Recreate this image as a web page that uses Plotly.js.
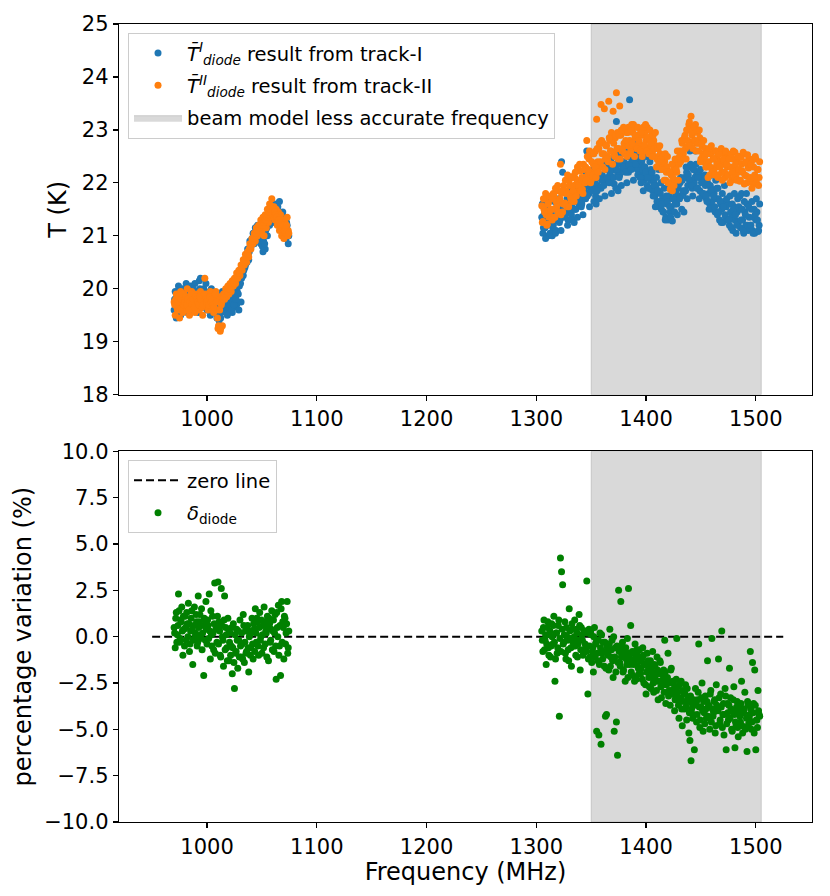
<!DOCTYPE html>
<html><head><meta charset="utf-8">
<script src="https://cdn.plot.ly/plotly-3.0.1.min.js"></script>
<style>html,body{margin:0;padding:0;background:#fff}#chart{width:830px;height:896px}</style>
</head><body><div id="chart"></div>
<script>
// Frequency channels (MHz): integer channels and half-MHz channels
const freqLow = [
970,971,972,973,974,975,976,977,978,979,
980,981,982,983,984,985,986,987,988,989,
990,991,992,993,994,995,996,997,998,999,
1000,1001,1002,1003,1004,1005,1006,1007,1008,1009,
1010,1011,1012,1013,1014,1015,1016,1017,1018,1019,
1020,1021,1022,1023,1024,1025,1026,1027,1028,1029,
1030,1031,1032,1033,1034,1035,1036,1037,1038,1039,
1040,1041,1042,1043,1044,1045,1046,1047,1048,1049,
1050,1051,1052,1053,1054,1055,1056,1057,1058,1059,
1060,1061,1062,1063,1064,1065,1066,1067,1068,1069,
1070,1071,1072,1073,1074];
const freqLowMid = [
970.5,971.5,972.5,973.5,974.5,975.5,976.5,977.5,978.5,979.5,
980.5,981.5,982.5,983.5,984.5,985.5,986.5,987.5,988.5,989.5,
990.5,991.5,992.5,993.5,994.5,995.5,996.5,997.5,998.5,999.5,
1000.5,1001.5,1002.5,1003.5,1004.5,1005.5,1006.5,1007.5,1008.5,1009.5,
1010.5,1011.5,1012.5,1013.5,1014.5,1015.5,1016.5,1017.5,1018.5,1019.5,
1020.5,1021.5,1022.5,1023.5,1024.5,1025.5,1026.5,1027.5,1028.5,1029.5,
1030.5,1031.5,1032.5,1033.5,1034.5,1035.5,1036.5,1037.5,1038.5,1039.5,
1040.5,1041.5,1042.5,1043.5,1044.5,1045.5,1046.5,1047.5,1048.5,1049.5,
1050.5,1051.5,1052.5,1053.5,1054.5,1055.5,1056.5,1057.5,1058.5,1059.5,
1060.5,1061.5,1062.5,1063.5,1064.5,1065.5,1066.5,1067.5,1068.5,1069.5,
1070.5,1071.5,1072.5,1073.5,1074.5];
const freqHigh = [
1305,1306,1307,1308,1309,1310,1311,1312,1313,1314,
1315,1316,1317,1318,1319,1320,1321,1322,1323,1324,
1325,1326,1327,1328,1329,1330,1331,1332,1333,1334,
1335,1336,1337,1338,1339,1340,1341,1342,1343,1344,
1345,1346,1347,1348,1349,1350,1351,1352,1353,1354,
1355,1356,1357,1358,1359,1360,1361,1362,1363,1364,
1365,1366,1367,1368,1369,1370,1371,1372,1373,1374,
1375,1376,1377,1378,1379,1380,1381,1382,1383,1384,
1385,1386,1387,1388,1389,1390,1391,1392,1393,1394,
1395,1396,1397,1398,1399,1400,1401,1402,1403,1404,
1405,1406,1407,1408,1409,1410,1411,1412,1413,1414,
1415,1416,1417,1418,1419,1420,1421,1422,1423,1424,
1425,1426,1427,1428,1429,1430,1431,1432,1433,1434,
1435,1436,1437,1438,1439,1440,1441,1442,1443,1444,
1445,1446,1447,1448,1449,1450,1451,1452,1453,1454,
1455,1456,1457,1458,1459,1460,1461,1462,1463,1464,
1465,1466,1467,1468,1469,1470,1471,1472,1473,1474,
1475,1476,1477,1478,1479,1480,1481,1482,1483,1484,
1485,1486,1487,1488,1489,1490,1491,1492,1493,1494,
1495,1496,1497,1498,1499,1500,1501,1502,1503];
const freqHighMid = [
1305.5,1306.5,1307.5,1308.5,1309.5,1310.5,1311.5,1312.5,1313.5,1314.5,
1315.5,1316.5,1317.5,1318.5,1319.5,1320.5,1321.5,1322.5,1323.5,1324.5,
1325.5,1326.5,1327.5,1328.5,1329.5,1330.5,1331.5,1332.5,1333.5,1334.5,
1335.5,1336.5,1337.5,1338.5,1339.5,1340.5,1341.5,1342.5,1343.5,1344.5,
1345.5,1346.5,1347.5,1348.5,1349.5,1350.5,1351.5,1352.5,1353.5,1354.5,
1355.5,1356.5,1357.5,1358.5,1359.5,1360.5,1361.5,1362.5,1363.5,1364.5,
1365.5,1366.5,1367.5,1368.5,1369.5,1370.5,1371.5,1372.5,1373.5,1374.5,
1375.5,1376.5,1377.5,1378.5,1379.5,1380.5,1381.5,1382.5,1383.5,1384.5,
1385.5,1386.5,1387.5,1388.5,1389.5,1390.5,1391.5,1392.5,1393.5,1394.5,
1395.5,1396.5,1397.5,1398.5,1399.5,1400.5,1401.5,1402.5,1403.5,1404.5,
1405.5,1406.5,1407.5,1408.5,1409.5,1410.5,1411.5,1412.5,1413.5,1414.5,
1415.5,1416.5,1417.5,1418.5,1419.5,1420.5,1421.5,1422.5,1423.5,1424.5,
1425.5,1426.5,1427.5,1428.5,1429.5,1430.5,1431.5,1432.5,1433.5,1434.5,
1435.5,1436.5,1437.5,1438.5,1439.5,1440.5,1441.5,1442.5,1443.5,1444.5,
1445.5,1446.5,1447.5,1448.5,1449.5,1450.5,1451.5,1452.5,1453.5,1454.5,
1455.5,1456.5,1457.5,1458.5,1459.5,1460.5,1461.5,1462.5,1463.5,1464.5,
1465.5,1466.5,1467.5,1468.5,1469.5,1470.5,1471.5,1472.5,1473.5,1474.5,
1475.5,1476.5,1477.5,1478.5,1479.5,1480.5,1481.5,1482.5,1483.5,1484.5,
1485.5,1486.5,1487.5,1488.5,1489.5,1490.5,1491.5,1492.5,1493.5,1494.5,
1495.5,1496.5,1497.5,1498.5,1499.5,1500.5,1501.5,1502.5,1503.5];

// T_diode from track-I (K)
const tILow = [
19.6,19.95,19.45,19.8,20.05,19.7,19.5,19.9,20.0,19.65,
19.85,20.1,19.55,19.9,19.75,20.05,19.6,19.9,19.8,20.1,
19.7,19.95,19.55,20.15,20.2,19.85,19.65,20.0,19.75,20.1,
19.6,19.9,19.8,19.5,20.0,19.7,19.85,19.6,19.9,19.45,
19.75,19.4,19.85,19.55,19.95,19.7,19.6,19.9,19.75,19.55,
19.8,19.6,19.95,19.55,19.85,19.65,20.05,19.7,20.2,19.6,
20.3,19.75,20.4,20.25,20.55,20.45,20.6,20.75,20.55,20.9,
20.8,20.95,21.05,20.85,21.15,21.0,21.2,20.9,21.1,20.85,
21.25,20.7,21.05,20.75,21.3,21.0,21.4,21.2,21.55,21.3,
21.45,21.25,21.6,21.35,21.5,21.2,21.65,21.3,21.1,21.45,
21.0,21.35,20.95,21.2,20.85];
const tILowMid = [
19.8,19.7,19.9,19.85,19.65,19.75,19.95,19.8,19.7,19.85,
19.9,19.75,19.7,19.95,19.8,19.65,19.85,20.0,19.75,19.8,
19.85,19.8,19.9,20.0,19.75,19.7,19.9,19.85,19.95,19.8,
19.75,19.85,19.7,19.9,19.8,19.65,19.75,19.8,19.55,19.7,
19.5,19.65,19.45,19.7,19.6,19.8,19.65,19.7,19.5,19.75,
19.65,19.7,19.6,19.75,19.7,19.85,19.8,19.95,19.9,20.05,
20.1,20.2,20.3,20.35,20.4,20.55,20.5,20.65,20.7,20.8,
20.85,20.9,20.95,21.0,21.05,21.1,21.05,21.0,20.95,21.0,
20.8,20.9,20.85,21.1,21.15,21.2,21.3,21.35,21.4,21.5,
21.35,21.4,21.45,21.3,21.55,21.4,21.25,21.35,21.3,21.2,
21.15,21.1,21.25,21.05,21.0];
const tIHigh = [
21.35,21.05,21.4,21.15,21.5,21.2,21.0,21.45,21.25,21.38,
21.15,21.5,21.3,21.1,21.55,21.35,21.25,21.5,22.4,22.2,
21.35,21.6,21.45,21.7,21.3,21.55,21.75,21.4,21.62,21.5,
21.8,21.5,21.7,21.9,21.6,21.75,21.55,21.95,21.7,21.85,
21.7,22.6,21.95,21.8,22.05,21.85,22.15,21.9,22.0,21.75,
22.2,21.95,22.1,22.3,21.9,22.15,22.35,22.0,22.25,22.05,
22.3,22.05,22.2,22.4,22.1,22.25,21.98,22.35,23.16,22.2,
22.45,22.15,22.35,22.55,22.25,22.4,22.6,22.3,22.5,22.2,
23.57,22.7,22.4,22.55,22.3,22.6,22.45,22.25,22.5,22.35,
22.15,22.4,22.25,22.05,22.3,22.1,21.95,22.2,21.9,22.05,
22.1,21.85,22.0,21.75,21.95,21.65,21.85,21.55,21.8,21.5,
21.7,21.45,21.65,21.35,21.6,21.3,21.75,21.45,21.55,21.28,
21.7,21.45,21.8,21.6,21.9,21.7,22.0,21.75,22.05,21.8,
22.1,21.85,22.2,21.95,22.3,22.6,22.05,21.9,22.25,22.0,
22.6,22.15,21.9,22.2,21.85,22.1,21.8,22.05,21.75,21.95,
21.7,22.0,21.8,21.6,21.9,21.65,21.5,21.8,21.45,21.7,
21.4,21.7,21.3,21.6,21.5,21.25,21.65,21.4,21.55,21.3,
21.6,21.2,21.45,21.35,21.1,21.55,21.3,21.05,21.45,21.25,
21.5,21.15,21.8,21.3,21.05,21.45,21.2,21.6,21.1,21.35,
21.2,21.5,21.1,21.35,21.05,21.3,21.45,21.08,21.2];
const tIHighMid = [
21.6,21.15,21.35,20.95,21.5,21.25,21.65,21.05,21.4,21.0,
21.2,21.65,21.05,21.5,21.4,21.7,21.3,21.1,21.6,21.45,
21.85,21.4,21.6,21.2,21.75,21.5,21.9,21.3,21.65,21.25,
21.5,21.95,21.35,21.8,21.7,22.0,21.6,21.4,21.9,21.75,
22.2,21.75,21.95,21.55,22.1,21.85,22.25,21.65,22.0,21.6,
21.85,22.3,21.7,22.15,22.05,22.35,21.95,21.75,22.25,22.1,
22.45,22.0,22.2,21.8,22.35,22.1,22.5,21.9,22.25,21.85,
22.1,22.55,21.95,22.4,22.3,22.6,22.2,22.0,22.5,22.35,
22.7,22.25,22.45,22.05,22.6,22.35,22.75,22.15,22.5,22.1,
22.0,22.45,21.85,22.3,22.2,22.5,22.1,21.9,22.4,22.25,
22.2,21.75,21.95,21.55,22.1,21.85,22.25,21.65,22.0,21.6,
21.45,21.9,21.3,21.75,21.65,21.95,21.55,21.35,21.85,21.7,
22.05,21.6,21.8,21.4,21.95,21.7,22.1,21.5,21.85,21.45,
21.85,22.3,21.7,22.15,22.05,22.35,21.95,21.75,22.25,22.1,
22.35,21.9,22.1,21.7,22.25,22.0,22.4,21.8,22.15,21.75,
21.65,22.1,21.5,21.95,21.85,22.15,21.75,21.55,22.05,21.9,
21.9,21.45,21.65,21.25,21.8,21.55,21.95,21.35,21.7,21.3,
21.3,21.75,21.15,21.6,21.5,21.8,21.4,21.2,21.7,21.55,
21.75,21.3,21.5,21.1,21.65,21.4,21.8,21.2,21.55,21.15,
21.2,21.65,21.05,21.5,21.4,21.7,21.3,21.1,21.6];

// T_diode from track-II (K)
const tIILow = [
19.75,19.5,19.9,19.6,19.85,19.45,19.95,19.7,19.55,19.9,
19.75,19.6,20.0,19.7,19.5,19.85,19.95,19.65,19.8,19.55,
19.9,19.7,19.85,19.6,19.95,19.75,19.5,19.85,20.2,19.7,
19.9,19.6,19.8,19.95,19.65,19.85,19.55,19.8,19.95,19.6,
19.25,19.85,19.2,19.7,19.3,19.9,19.8,20.0,19.85,20.05,
19.9,20.1,19.95,20.15,20.05,20.2,20.1,20.3,20.2,20.35,
20.25,20.45,20.35,20.55,20.45,20.65,20.5,20.7,20.6,20.85,
20.75,20.95,20.85,21.05,20.9,21.15,21.0,21.2,21.05,21.3,
21.1,21.35,21.0,21.4,21.15,21.5,21.25,21.6,21.35,21.7,
21.4,21.55,21.3,21.5,21.2,21.45,21.1,21.4,21.0,21.3,
20.95,21.25,21.05,21.35,21.1];
const tIILowMid = [
19.7,19.8,19.65,19.75,19.85,19.6,19.8,19.9,19.7,19.75,
19.85,19.7,19.8,19.6,19.75,19.9,19.7,19.8,19.65,19.85,
19.8,19.75,19.7,19.85,19.8,19.65,19.7,19.9,19.8,19.75,
19.8,19.7,19.85,19.75,19.8,19.7,19.65,19.9,19.75,19.45,
19.3,19.6,19.25,19.75,19.8,19.85,19.9,19.95,19.95,20.0,
20.0,20.05,20.05,20.1,20.1,20.15,20.2,20.25,20.3,20.3,
20.35,20.4,20.45,20.5,20.55,20.6,20.6,20.65,20.75,20.8,
20.85,20.9,20.95,21.0,21.05,21.1,21.1,21.15,21.2,21.2,
21.2,21.25,21.3,21.3,21.35,21.4,21.45,21.5,21.55,21.55,
21.5,21.45,21.4,21.35,21.3,21.3,21.25,21.2,21.15,21.2,
21.1,21.15,21.2,21.0,21.05];
const tIIHigh = [
21.57,21.27,21.5,21.7,21.4,21.22,21.62,21.48,21.37,21.7,
21.5,21.75,21.35,21.65,21.85,21.45,21.62,22.35,21.8,21.45,
21.95,21.62,21.85,21.55,21.8,22.05,21.75,21.65,22.12,21.95,
22.1,21.8,22.05,22.25,21.9,22.22,22.0,21.88,22.35,22.1,
22.3,22.8,22.15,22.45,22.2,22.05,22.55,22.35,22.2,22.6,
23.2,22.4,22.65,22.3,23.48,22.55,22.75,23.4,22.45,22.7,
22.5,23.54,22.8,22.6,22.9,23.35,22.55,22.85,23.7,22.95,
22.65,23.45,22.9,22.6,23.0,22.75,22.55,22.95,22.7,23.05,
22.8,22.6,23.1,22.95,22.7,22.85,23.05,22.65,22.9,22.75,
23.0,22.7,22.9,22.6,22.95,22.8,23.05,22.65,22.85,22.7,
22.9,22.6,22.8,22.5,22.7,22.45,22.65,22.35,22.55,22.3,
22.5,22.25,22.4,22.05,22.3,22.0,22.2,21.88,22.15,21.85,
22.25,22.05,22.35,22.2,22.45,22.35,22.6,22.45,22.75,22.55,
22.85,22.65,23.0,22.8,23.1,22.75,23.26,22.9,23.05,22.8,
23.1,22.75,22.95,22.6,22.85,22.45,22.7,22.55,22.4,22.65,
22.3,22.6,22.4,22.15,22.55,22.25,22.45,22.2,22.6,22.3,
22.5,22.15,22.4,22.6,22.2,22.35,22.55,22.1,22.45,22.3,
22.15,22.5,22.3,22.05,22.45,22.25,22.58,22.1,22.4,22.2,
22.5,22.05,22.35,22.2,22.55,22.15,22.4,22.0,22.3,22.45,
22.1,22.4,22.0,22.3,22.15,22.45,21.98,22.25,22.1];
const tIIHighMid = [
21.25,21.7,21.45,21.8,21.2,21.6,21.35,21.75,21.5,21.3,
21.8,21.35,21.9,21.55,21.95,21.45,21.7,21.4,21.85,21.6,
21.6,22.05,21.8,22.15,21.55,21.95,21.7,22.1,21.85,21.65,
22.2,21.75,22.3,21.95,22.35,21.85,22.1,21.8,22.25,22.0,
22.05,22.5,22.25,22.6,22.0,22.4,22.15,22.55,22.3,22.1,
22.65,22.2,22.75,22.4,22.8,22.3,22.55,22.25,22.7,22.45,
22.4,22.85,22.6,22.95,22.35,22.75,22.5,22.9,22.65,22.45,
22.9,22.45,23.0,22.65,23.05,22.55,22.8,22.5,22.95,22.7,
22.55,23.0,22.75,23.1,22.5,22.9,22.65,23.05,22.8,22.6,
22.95,22.5,23.05,22.7,23.1,22.6,22.85,22.55,23.0,22.75,
22.5,22.9,22.65,22.95,22.3,22.65,22.4,22.7,22.45,22.25,
22.5,22.05,22.55,22.2,22.5,22.0,22.2,21.9,22.35,22.1,
21.95,22.45,22.25,22.6,22.05,22.5,22.4,22.8,22.6,22.45,
22.9,22.45,23.0,22.7,23.15,22.7,22.95,22.65,23.05,22.8,
22.6,23.0,22.75,23.0,22.4,22.75,22.5,22.8,22.5,22.3,
22.55,22.1,22.65,22.3,22.7,22.2,22.45,22.15,22.6,22.35,
22.1,22.55,22.3,22.65,22.05,22.45,22.2,22.6,22.35,22.15,
22.45,22.0,22.55,22.2,22.6,22.1,22.35,22.05,22.5,22.25,
22.03,22.48,22.23,22.58,21.98,22.38,22.13,22.53,22.28,22.08,
22.35,21.9,22.45,22.1,22.5,22.0,22.25,21.95,22.4];

// percentage variation delta_diode (%)
const deltaLow = [
0.5,-0.6,1.3,0.1,2.3,-0.3,0.9,1.6,-1.0,0.4,
1.1,-0.2,0.7,1.8,-0.8,0.3,1.4,-1.5,0.6,0.0,
1.2,-0.5,2.2,0.8,-0.1,1.5,0.2,-2.1,0.9,1.9,
-0.4,0.6,2.3,-1.2,0.1,1.1,-0.7,2.9,0.4,-0.3,
2.95,0.8,-1.0,2.6,0.0,-1.6,2.2,0.5,-0.6,1.0,
-1.3,0.2,-0.5,-2.0,0.7,-2.8,-0.9,0.4,-1.7,-0.2,
0.9,-1.1,-0.4,1.2,-1.4,0.3,-0.8,0.6,-1.9,0.1,
-0.6,1.0,-1.2,0.4,1.5,-0.3,0.8,-1.0,1.3,0.0,
-0.9,0.6,1.6,-0.4,0.2,1.1,-1.3,0.7,-0.2,1.4,
0.3,-0.8,1.2,-2.3,0.5,1.7,-0.5,-2.1,1.9,0.8,
-1.2,1.0,0.2,1.9,-0.6];
const deltaLowMid = [
0.2,1.0,-0.3,0.6,1.4,-0.1,0.8,0.3,1.1,-0.5,
0.5,1.3,0.0,0.7,-0.4,1.0,0.4,-0.2,1.6,0.2,
0.8,-0.3,0.5,1.2,0.1,-0.7,0.6,1.0,-0.2,0.4,
0.9,-0.1,0.3,1.4,-0.5,0.2,0.7,-0.9,0.5,1.1,
-0.4,0.3,-1.1,0.6,-0.2,0.9,-0.7,0.1,-1.3,0.4,
-0.3,-1.0,0.5,-0.6,-1.4,0.1,-0.8,-0.2,0.3,-1.1,
-0.5,0.2,-1.2,0.6,-0.3,-0.9,0.4,-0.6,0.0,-1.0,
0.3,-0.4,0.7,-0.8,0.2,1.0,-0.5,0.5,-0.2,0.9,
0.1,-0.6,0.8,0.3,-1.1,0.6,1.0,-0.3,0.4,-0.7,
0.9,0.2,-0.5,1.3,0.0,-1.0,0.6,1.5,-0.3,0.5,
1.1,-0.4,0.7,-0.9,0.3];
const deltaHigh = [
0.3,-0.8,0.9,-0.2,-1.5,0.5,-0.6,0.1,-1.1,0.7,
-0.4,1.1,-2.4,0.2,-0.9,0.6,-4.3,4.25,3.5,2.8,
-0.3,0.8,-1.2,0.0,-0.7,1.5,-0.1,-1.6,0.4,-0.5,
0.9,-1.0,0.2,-0.4,1.2,-1.8,0.5,-0.2,-0.9,0.3,
-0.6,3.0,-3.1,0.4,-1.1,0.1,-0.8,-1.9,0.5,-0.4,
-5.1,-1.3,-5.3,0.2,-5.8,-0.9,-0.3,-1.6,-4.3,-4.2,
-0.7,-1.8,0.4,-1.1,-0.2,-2.2,-5.1,-0.6,-4.6,-6.4,
2.5,-1.4,1.9,-0.5,-1.9,-0.8,-2.4,-1.2,-0.1,2.6,
-1.5,0.6,-0.9,-2.1,-1.3,-0.4,-2.3,-1.0,-1.7,-0.7,
-2.0,-1.2,-0.6,-2.5,-1.5,-3.1,-0.9,-1.8,-2.7,-1.3,
-2.2,-0.8,-3.0,-1.6,-2.4,-1.1,-3.4,-2.0,-1.4,-3.3,
-2.6,-1.8,-0.2,-3.6,-2.3,-0.9,-2.9,-3.7,-1.7,-3.1,
-2.5,-4.0,-3.2,-0.1,-2.7,-4.4,-3.5,-2.4,-4.8,-3.0,
-3.9,-2.6,-4.5,-3.3,-5.2,-5.6,-6.7,-3.6,-4.2,-6.1,
-2.8,-4.6,-3.4,-0.4,-4.9,-3.8,-2.5,-5.1,-4.1,-3.2,
-4.4,-1.3,-3.7,-5.0,-2.9,-0.1,-4.3,-3.5,-5.2,-2.6,
-3.9,-1.2,-4.7,-3.1,0.3,-4.2,-5.3,-2.8,-6.1,-3.6,
-4.5,-1.7,-3.3,-5.0,-4.0,-2.7,-6.0,-4.8,-3.5,-5.4,
-3.8,-4.6,-2.4,-5.2,-4.1,-3.0,-4.9,-6.2,-3.7,-4.4,
-0.8,-5.0,-1.4,-3.6,-1.8,-6.1,-4.5,-2.9,-4.2];
const deltaHighMid = [
-0.2,0.5,-0.7,0.1,-0.4,0.8,-1.0,0.3,-0.5,0.0,
0.6,-0.3,-1.2,0.2,-0.6,0.9,-0.1,-0.8,0.4,-0.4,
0.1,-0.9,0.5,-0.2,-1.3,0.3,-0.6,0.7,-0.3,0.0,
-0.5,0.4,-1.1,-0.2,0.6,-0.7,0.1,-1.0,0.3,-0.4,
-0.8,0.2,-1.2,-0.5,0.3,-1.4,-0.6,0.0,-1.1,-0.3,
-0.9,-0.2,-1.5,-0.6,0.1,-1.2,-0.8,-0.3,-1.7,-0.5,
-1.0,-0.4,-1.6,-0.7,-1.3,0.0,-1.1,-1.9,-0.5,-1.4,
-0.8,-1.6,-1.1,-0.3,-1.8,-1.0,-0.6,-1.5,-2.2,-0.9,
-1.2,-1.9,-0.8,-1.5,-2.4,-1.1,-0.7,-1.6,-2.0,-1.3,
-1.7,-2.3,-1.0,-1.5,-2.6,-1.9,-1.3,-2.2,-1.6,-2.8,
-1.9,-2.5,-1.5,-2.1,-2.9,-1.8,-2.4,-1.3,-2.7,-2.0,
-2.3,-3.0,-1.9,-2.6,-2.2,-3.2,-2.5,-1.8,-2.9,-2.4,
-2.8,-3.4,-2.3,-3.0,-3.7,-2.6,-3.3,-3.9,-2.9,-3.5,
-3.1,-3.8,-2.8,-3.5,-4.1,-3.2,-3.9,-4.4,-3.4,-3.7,
-3.6,-4.2,-3.0,-3.8,-4.5,-3.3,-4.0,-3.5,-4.7,-3.9,
-3.5,-4.3,-3.8,-3.1,-4.6,-3.9,-4.1,-3.4,-4.8,-3.7,
-4.0,-3.3,-4.5,-3.8,-4.9,-3.6,-4.2,-3.2,-4.7,-4.1,
-3.7,-4.4,-3.9,-5.1,-3.4,-4.2,-4.6,-3.8,-4.9,-4.0,
-4.3,-3.6,-4.8,-4.1,-3.9,-5.0,-4.4,-3.5,-4.7,-4.2,
-3.9,-4.6,-4.1,-5.2,-3.7,-4.5,-4.9,-4.0,-4.3];

// beam-model less accurate band, zero line and axes
const bandFreq = [1350, 1505];
const zeroLineFreq = [950, 1525];
const zeroLineVal = [0, 0];
const tRange = [18, 25];
const pctRange = [-10, 10];
const freqRange = [919.8, 1551.2];
const freqTicks = [1000, 1100, 1200, 1300, 1400, 1500];
const tTicks = [18, 19, 20, 21, 22, 23, 24, 25];
const pctTicks = [-10, -7.5, -5, -2.5, 0, 2.5, 5, 7.5, 10];

const freqAll = freqLow.concat(freqLowMid, freqHigh, freqHighMid);
const tIAll = tILow.concat(tILowMid, tIHigh, tIHighMid);
const tIIAll = tIILow.concat(tIILowMid, tIIHigh, tIIHighMid);
const deltaAll = deltaLow.concat(deltaLowMid, deltaHigh, deltaHighMid);

const bandX = [bandFreq[0], bandFreq[1], bandFreq[1], bandFreq[0], bandFreq[0]];
const bandFill = 'rgba(128,128,128,0.3)';
const FONT = 'DejaVu Sans, Liberation Sans, sans-serif';

const traces = [
  {x: bandX, y: [tRange[0], tRange[0], tRange[1], tRange[1], tRange[0]],
   xaxis: 'x', yaxis: 'y', mode: 'lines', fill: 'toself', fillcolor: bandFill,
   line: {color: bandFill, width: 1}, name: 'beam model less accurate frequency',
   legend: 'legend', legendgroup: 'g3', legendrank: 3, hoverinfo: 'skip'},
  {x: freqAll, y: tIAll, xaxis: 'x', yaxis: 'y', type: 'scatter', mode: 'markers',
   marker: {color: '#1f77b4', size: 7}, legend: 'legend', legendgroup: 'g1', legendrank: 1,
   name: '<i>T̄</i><sup><i>I</i></sup><sub><i>diode</i></sub> result from track-I'},
  {x: freqAll, y: tIIAll, xaxis: 'x', yaxis: 'y', type: 'scatter', mode: 'markers',
   marker: {color: '#ff7f0e', size: 7}, legend: 'legend', legendgroup: 'g2', legendrank: 2,
   name: '<i>T̄</i><sup><i>II</i></sup><sub><i>diode</i></sub> result from track-II'},
  {x: bandX, y: [pctRange[0], pctRange[0], pctRange[1], pctRange[1], pctRange[0]],
   xaxis: 'x2', yaxis: 'y2', mode: 'lines', fill: 'toself', fillcolor: bandFill,
   line: {color: bandFill, width: 1}, showlegend: false, hoverinfo: 'skip'},
  {x: zeroLineFreq, y: zeroLineVal, xaxis: 'x2', yaxis: 'y2', mode: 'lines',
   line: {color: 'black', width: 2, dash: '8px,4px'}, name: 'zero line',
   legend: 'legend2', legendgroup: 'g4', legendrank: 1},
  {x: freqAll, y: deltaAll, xaxis: 'x2', yaxis: 'y2', type: 'scatter', mode: 'markers',
   marker: {color: 'green', size: 7}, name: '<i>δ</i><sub>diode</sub>',
   legend: 'legend2', legendgroup: 'g5', legendrank: 2}
];

const axisBase = {
  showline: true, linecolor: 'black', linewidth: 1.3, mirror: true,
  ticks: 'outside', ticklen: 5, tickwidth: 1.2, tickcolor: 'black',
  showgrid: false, zeroline: false, tickfont: {size: 21, color: 'black'}
};
const legendBase = {
  xanchor: 'left', yanchor: 'top', bgcolor: 'rgba(255,255,255,0.8)',
  bordercolor: '#cccccc', borderwidth: 1, font: {size: 19.5, color: 'black'},
  itemwidth: 48, tracegroupgap: 4
};

const layout = {
  width: 830, height: 896,
  margin: {l: 119, r: 18, t: 19, b: 74},
  paper_bgcolor: 'white', plot_bgcolor: 'white',
  font: {family: FONT, color: 'black'},
  showlegend: true,
  xaxis: Object.assign({}, axisBase, {domain: [0, 1], anchor: 'y', range: freqRange, tickvals: freqTicks}),
  yaxis: Object.assign({}, axisBase, {domain: [0.5355, 1], anchor: 'x', range: tRange, tickvals: tTicks,
    automargin: true, title: {text: 'T (K)', font: {size: 24}, standoff: 8}}),
  xaxis2: Object.assign({}, axisBase, {domain: [0, 1], anchor: 'y2', range: freqRange, tickvals: freqTicks,
    automargin: true, title: {text: 'Frequency (MHz)', font: {size: 24}, standoff: 4}}),
  yaxis2: Object.assign({}, axisBase, {domain: [0, 0.4645], anchor: 'x2', range: pctRange, tickvals: pctTicks,
    tickformat: '.1f', automargin: true, title: {text: 'percentage variation (%)', font: {size: 24}, standoff: 5}}),
  legend: Object.assign({}, legendBase, {x: 0.013, y: 0.989}),
  legend2: Object.assign({}, legendBase, {x: 0.013, y: 0.4535})
};

Plotly.newPlot('chart', traces, layout, {displayModeBar: false, staticPlot: true});
</script>
</body></html>
